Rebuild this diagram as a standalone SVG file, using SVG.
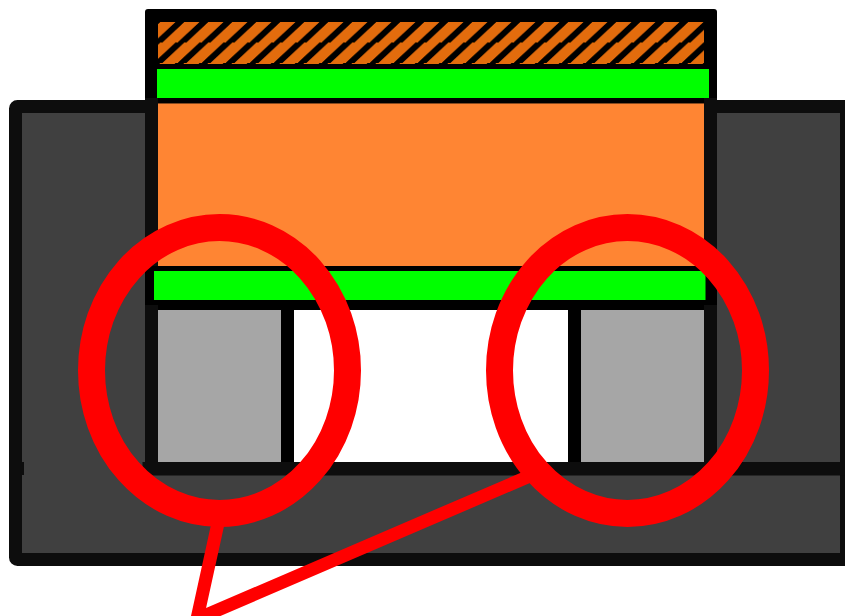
<svg xmlns="http://www.w3.org/2000/svg" width="845" height="616" viewBox="0 0 845 616">
<style>
.r{stroke:#f00;fill:none}
</style>
<defs>
<filter id="b" x="0" y="0" width="100%" height="100%"><feGaussianBlur stdDeviation="0.7"/></filter>
<pattern id="h" patternUnits="userSpaceOnUse" x="158" y="22" width="24" height="20.500">
<rect width="24" height="21" fill="#e36c09"/>
<path d="M-2.100 22.500L24.600 -2.500M21.900 22.500L48.600 -2.500M-26.100 22.500L.6 -2.500" stroke="#000" stroke-width="6" fill="none"/>
</pattern>
</defs>
<rect width="845" height="616" fill="#fff"/>
<g id="panel">
<rect x="15.500" y="106.500" width="831" height="453" rx="2" fill="#404040" stroke="#0d0d0d" stroke-width="13" stroke-linejoin="round"/>
<rect x="9" y="462" width="15" height="13" fill="#0d0d0d"/>
</g>
<g id="top-block">
<rect x="145" y="9" width="572" height="94" rx="3" fill="#000"/>
<rect x="158" y="22" width="546" height="42" fill="url(#h)" filter="url(#b)"/>
<rect x="157" y="69" width="552" height="29" fill="#0f0"/>
</g>
<g id="middle">
<rect x="145" y="98" width="13" height="212" fill="#0d0d0d"/>
<rect x="704" y="98" width="13" height="212" fill="#0d0d0d"/>
<rect x="158" y="103.500" width="546" height="163" fill="#ff8533"/>
<rect x="145" y="266" width="572" height="44" rx="4" fill="#000"/>
<rect x="154" y="271" width="551.500" height="29" fill="#0f0"/>
</g>
<g id="base">
<rect x="145" y="305" width="13" height="160" fill="#0d0d0d"/>
<rect x="704" y="305" width="13" height="160" fill="#0d0d0d"/>
<rect x="158" y="310" width="123" height="152" fill="#a6a6a6"/>
<rect x="581" y="310" width="123" height="152" fill="#a6a6a6"/>
<rect x="294" y="310" width="274" height="152" fill="#fff"/>
<rect x="281" y="310" width="13" height="152" fill="#000"/>
<rect x="568" y="310" width="13" height="152" fill="#000"/>
<rect x="142.500" y="462" width="702.500" height="13.500" fill="#0d0d0d"/>
</g>
<g id="connectors">
<path class="r" stroke-width="13" d="M218.700 520L197 619L532 475"/>
</g>
<g id="callouts">
<ellipse class="r" cx="219.500" cy="370.500" rx="128" ry="143" stroke-width="27"/>
<ellipse class="r" cx="627.500" cy="370.500" rx="128" ry="143" stroke-width="27"/>
</g>
</svg>
